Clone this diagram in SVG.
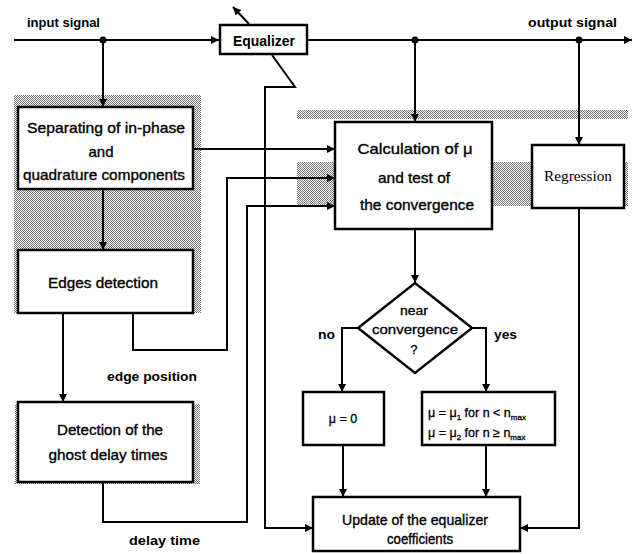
<svg xmlns="http://www.w3.org/2000/svg" width="639" height="554" viewBox="0 0 639 554">
<defs>
<pattern id="dots" width="2" height="2" patternUnits="userSpaceOnUse">
<rect width="2" height="2" fill="#fff"/>
<rect x="0" y="0" width="1" height="1" fill="#777"/>
<rect x="1" y="1" width="1" height="1" fill="#777"/>
</pattern>
<marker id="ah" viewBox="0 0 10 10" refX="10" refY="5" markerWidth="9" markerHeight="8" markerUnits="userSpaceOnUse" orient="auto">
<path d="M0,0 L10,5 L0,10 z" fill="#000"/>
</marker>
</defs>
<style>
.box{fill:#fff;stroke:#000;stroke-width:2.5}
.ln{fill:none;stroke:#000;stroke-width:2}
.t{font-family:"Liberation Sans",Arial,sans-serif;font-size:15px;fill:#000;stroke:#000;stroke-width:0.35;text-anchor:middle}
.lb{font-family:"Liberation Sans",Arial,sans-serif;font-size:13px;font-weight:bold;fill:#000}
.s{font-family:"Liberation Sans",Arial,sans-serif;font-size:12.5px;fill:#000;stroke:#000;stroke-width:0.3}
.shade{fill:url(#dots)}
</style>
<rect width="639" height="554" fill="#fff"/>

<g id="shading">
<rect class="shade" x="14" y="95" width="187" height="218"/>
<rect class="shade" x="15" y="404" width="185" height="80"/>
<rect class="shade" x="297" y="110" width="331" height="9"/>
<rect class="shade" x="297" y="162" width="331" height="44"/>
</g>

<g id="connectors">
<path class="ln" d="M14,40 H219" marker-end="url(#ah)"/>
<path class="ln" d="M103,40 V107" marker-end="url(#ah)"/>
<path class="ln" d="M307,40 H632" marker-end="url(#ah)"/>
<path class="ln" d="M415,40 V122" marker-end="url(#ah)"/>
<path class="ln" d="M579,40 V145" marker-end="url(#ah)"/>
<path class="ln" d="M103,189 V250" marker-end="url(#ah)"/>
<path class="ln" d="M193,149 H335" marker-end="url(#ah)"/>
<path class="ln" d="M133,313 V350 H227 V178 H335" marker-end="url(#ah)"/>
<path class="ln" d="M63,313 V402" marker-end="url(#ah)"/>
<path class="ln" d="M103,482 V522 H247 V206 H335" marker-end="url(#ah)"/>
<path class="ln" d="M272,55 L295,87 H265 V528 H313" marker-end="url(#ah)"/>
<path class="ln" d="M249,24 L233,7" marker-end="url(#ah)"/>
<path class="ln" d="M415,229 V283" marker-end="url(#ah)"/>
<path class="ln" d="M358,328 H342 V392" marker-end="url(#ah)"/>
<path class="ln" d="M472,328 H486 V392" marker-end="url(#ah)"/>
<path class="ln" d="M343,445 V497" marker-end="url(#ah)"/>
<path class="ln" d="M486,445 V497" marker-end="url(#ah)"/>
<path class="ln" d="M579,208 V528 H520" marker-end="url(#ah)"/>
<circle cx="103" cy="40" r="3.5"/>
<circle cx="415" cy="40" r="3.5"/>
<circle cx="579" cy="40" r="3.5"/>
</g>

<g id="labels">
<text class="lb" x="27" y="27" textLength="73" lengthAdjust="spacingAndGlyphs">input signal</text>
<text class="lb" x="528" y="27" textLength="89" lengthAdjust="spacingAndGlyphs">output signal</text>
<text class="lb" x="107" y="381" textLength="90" lengthAdjust="spacingAndGlyphs">edge position</text>
<text class="lb" x="129" y="545" textLength="71" lengthAdjust="spacingAndGlyphs">delay time</text>
<text class="lb" x="318" y="339" textLength="17" lengthAdjust="spacingAndGlyphs">no</text>
<text class="lb" x="494" y="339" textLength="23" lengthAdjust="spacingAndGlyphs">yes</text>
</g>

<g id="equalizer">
<rect class="box" x="220" y="25" width="87" height="29"/>
<text x="264" y="46" font-family="Liberation Sans, Arial, sans-serif" font-size="15" font-weight="bold" text-anchor="middle" textLength="62" lengthAdjust="spacingAndGlyphs">Equalizer</text>
</g>

<g id="separating">
<rect class="box" x="18" y="107" width="175" height="82"/>
<text class="t" x="106" y="133" textLength="158" lengthAdjust="spacingAndGlyphs">Separating of  in-phase</text>
<text class="t" x="101" y="157">and</text>
<text class="t" x="104" y="180" textLength="162" lengthAdjust="spacingAndGlyphs">quadrature components</text>
</g>

<g id="edges">
<rect class="box" x="18" y="250" width="175" height="63"/>
<text class="t" x="103" y="288" textLength="110" lengthAdjust="spacingAndGlyphs">Edges detection</text>
</g>

<g id="ghost">
<rect class="box" x="18" y="402" width="175" height="80"/>
<text class="t" x="110" y="435" textLength="106" lengthAdjust="spacingAndGlyphs">Detection of the</text>
<text class="t" x="108" y="460" textLength="119" lengthAdjust="spacingAndGlyphs">ghost delay times</text>
</g>

<g id="calculation">
<rect class="box" x="335" y="122" width="157" height="107"/>
<text class="t" x="415" y="154" textLength="115" lengthAdjust="spacingAndGlyphs">Calculation of μ</text>
<text class="t" x="414" y="183" textLength="72" lengthAdjust="spacingAndGlyphs">and test of</text>
<text class="t" x="417" y="210" textLength="114" lengthAdjust="spacingAndGlyphs">the convergence</text>
</g>

<g id="regression">
<rect class="box" x="532" y="145" width="92" height="63"/>
<text x="578" y="181" font-family="Liberation Serif, 'Times New Roman', serif" font-size="15.5" text-anchor="middle" textLength="68" lengthAdjust="spacingAndGlyphs">Regression</text>
</g>

<g id="decision">
<polygon points="415,283 472,328 415,373 358,328" fill="#fff" stroke="#000" stroke-width="2.5"/>
<text class="s" x="414" y="315" text-anchor="middle" textLength="28" lengthAdjust="spacingAndGlyphs">near</text>
<text class="s" x="415" y="334" text-anchor="middle" textLength="86" lengthAdjust="spacingAndGlyphs">convergence</text>
<text class="s" x="414" y="354" text-anchor="middle">?</text>
</g>

<g id="mu-zero">
<rect class="box" x="303" y="392" width="81" height="53"/>
<text class="s" x="343" y="423" text-anchor="middle">μ = 0</text>
</g>

<g id="mu-step">
<rect class="box" x="422" y="392" width="133" height="53"/>
<text class="s" x="428" y="417">μ = μ<tspan font-size="8" dy="3">1</tspan><tspan dy="-3"> for n &lt; n</tspan><tspan font-size="8" dy="3">max</tspan></text>
<text class="s" x="428" y="437">μ = μ<tspan font-size="8" dy="3">2</tspan><tspan dy="-3"> for n ≥ n</tspan><tspan font-size="8" dy="3">max</tspan></text>
</g>

<g id="update">
<rect class="box" x="313" y="497" width="207" height="54"/>
<text class="t" x="415" y="525" textLength="146" lengthAdjust="spacingAndGlyphs">Update of the equalizer</text>
<text class="t" x="420" y="544" textLength="66" lengthAdjust="spacingAndGlyphs">coefficients</text>
</g>
</svg>
